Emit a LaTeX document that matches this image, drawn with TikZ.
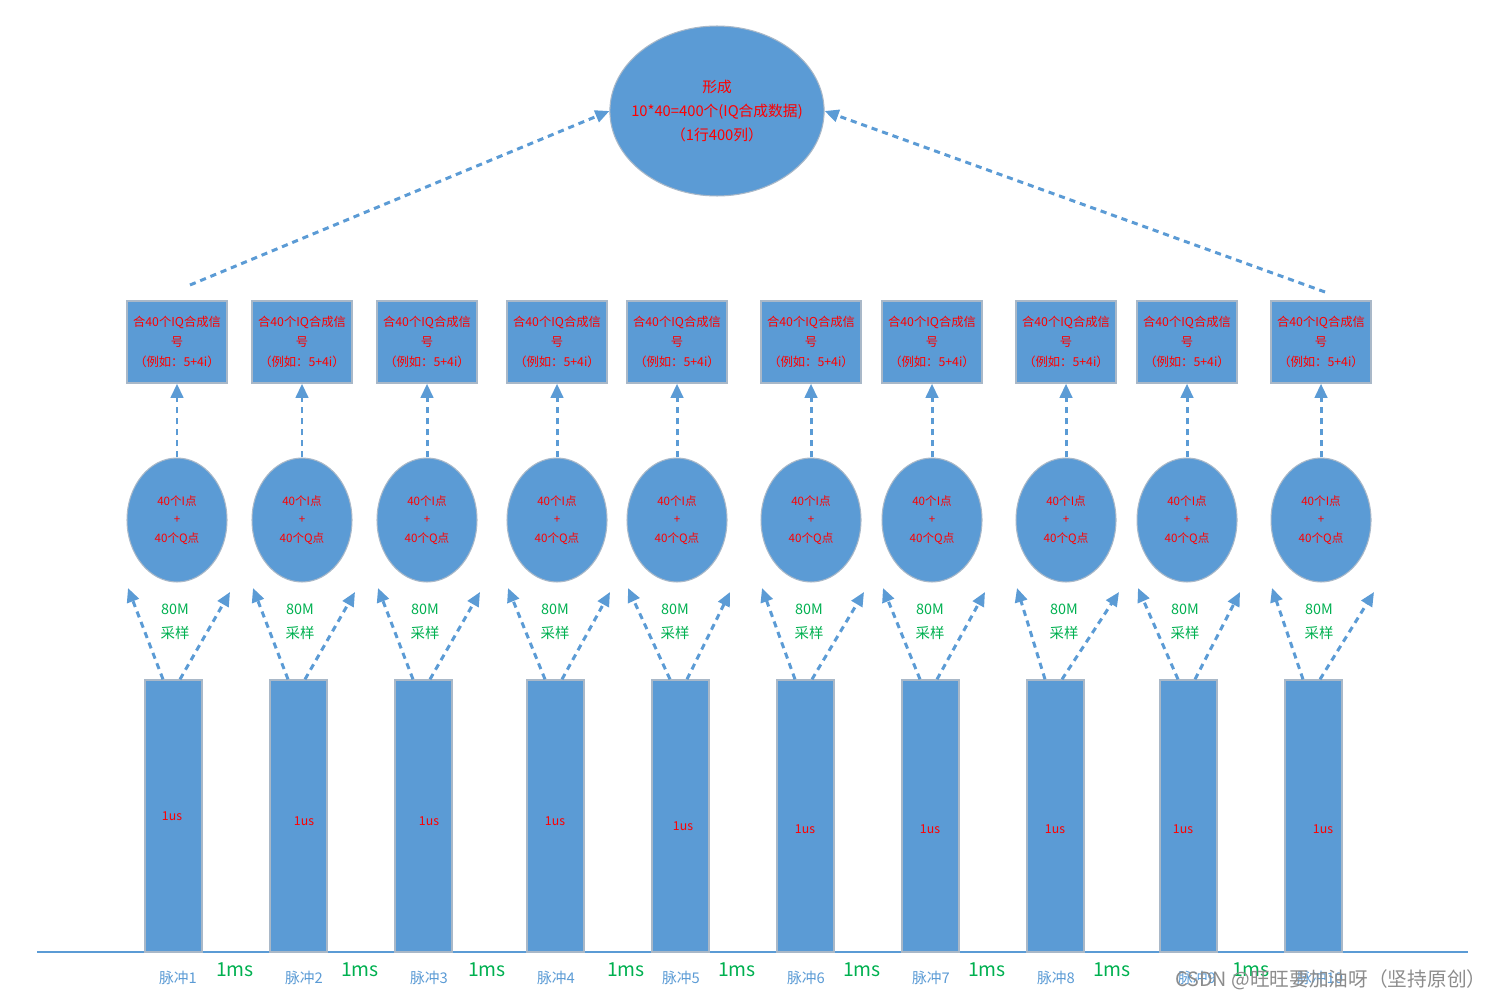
\documentclass[tikz,border=0pt]{standalone}
\usepackage{fontspec}
\setmainfont{Noto Sans CJK SC}
\usepackage{tikz}
\usetikzlibrary{positioning,arrows.meta,shapes.geometric}
\definecolor{fillblue}{HTML}{5B9BD5}
\definecolor{edgegray}{HTML}{A9B8C8}
\definecolor{txtred}{HTML}{FF0000}
\definecolor{txtgreen}{HTML}{00B050}
\tikzset{
  dasharr/.style={-{Triangle[length=8pt,width=7pt]},line width=1.7pt,fillblue,
    dash pattern=on 3.5pt off 2.8pt},
  axisln/.style={line width=1.6pt,fillblue},
  pulse/.style={rectangle,fill=fillblue,draw=edgegray,line width=0.8pt,
    minimum width=1.14cm,minimum height=5.44cm,inner sep=0pt},
  sigbox/.style={rectangle,fill=fillblue,draw=edgegray,line width=0.8pt,
    minimum width=2cm,minimum height=1.64cm,inner sep=0pt,align=center,
    text=txtred,font=\fontsize{7}{11.2}\selectfont},
  iqell/.style={ellipse,fill=fillblue,draw=edgegray,line width=0.6pt,
    minimum width=2cm,minimum height=2.48cm,inner sep=0pt,align=center,
    text=txtred,font=\fontsize{6.6}{10.6}\selectfont},
  bigell/.style={ellipse,fill=fillblue,draw=edgegray,line width=0.6pt,
    minimum width=4.24cm,minimum height=3.4cm,inner xsep=-0.2cm,inner ysep=0pt,
    align=center,text=txtred,font=\fontsize{8.4}{13.4}\selectfont},
  samplbl/.style={text=txtgreen,align=center,font=\fontsize{8.2}{13.6}\selectfont},
  uslbl/.style={text=txtred,font=\fontsize{7}{8}\selectfont},
  mslbl/.style={text=txtgreen,font=\fontsize{11}{12}\selectfont},
  pnlbl/.style={text=fillblue,font=\fontsize{8.4}{9}\selectfont},
  wmark/.style={text=black!45,font=\fontsize{11.2}{12}\selectfont},
}
\begin{document}
\begin{tikzpicture}[x=0.02cm,y=-0.02cm]
  \useasboundingbox (0,0) rectangle (1493,1000);
  % time axis
  \coordinate (ax0) at (37,952);
  \coordinate (ax1) at (1468,952);
  \draw[axisln] (ax0) -- (ax1);
  % one column per pulse: pulse x / box x / 1us pos / pulse label x
  \foreach \i/\px/\bx/\ux/\uy/\lx in {
      1/173.5/177/172/816/178, 2/298.5/302/304/821/304,
      3/423.5/427/429/821/429, 4/555.5/557/555/821/556,
      5/680.5/677/683/826/681, 6/805.5/811/805/829/806,
      7/930.5/932/930/829/931, 8/1055.5/1066/1055/829/1056,
      9/1188.5/1187/1183/829/1197, 10/1313.5/1321/1323/829/1320}{
    \node[pulse] (p\i) at (\px,816) {};
    \node[uslbl] (us\i) at (\ux,\uy) {1us};
    \node[pnlbl] (pn\i) at (\lx,978) {脉冲\i};
    \node[iqell] (e\i) at (\bx,520) {40个I点\\+\\40个Q点};
    \node[sigbox] (s\i) at (\bx,342) {合40个IQ合成信\\号\\（例如：5+4i）};
    \node[samplbl] (sm\i) at (\bx-2,622) {80M\\采样};
    \coordinate (sl\i) at (\bx-49,588);
    \coordinate (sr\i) at (\bx+53,592);
    \draw[dasharr] ([xshift=-0.21cm]p\i.north) -- (sl\i);
    \draw[dasharr] ([xshift=0.13cm]p\i.north) -- (sr\i);
    \draw[dasharr] (e\i.north) -- (s\i.south);
  }
  % gaps between pulses
  \foreach \g/\mx in {1/235,2/360,3/487,4/626,5/737,6/862,7/987,8/1112,9/1251}
    \node[mslbl] (ms\g) at (\mx,970) {1ms};
  % combined data
  \node[bigell] (top) at (717,111) {形成\\10*40=400个(IQ合成数据)\\（1行400列）};
  \coordinate (tl) at (190,285);
  \coordinate (tr) at (1325,292);
  \draw[dasharr] (tl) -- (top.west);
  \draw[dasharr] (tr) -- (top.east);
  \node[wmark] (wm) at (1331,980) {CSDN @旺旺要加油呀（坚持原创）};
\end{tikzpicture}
\end{document}
